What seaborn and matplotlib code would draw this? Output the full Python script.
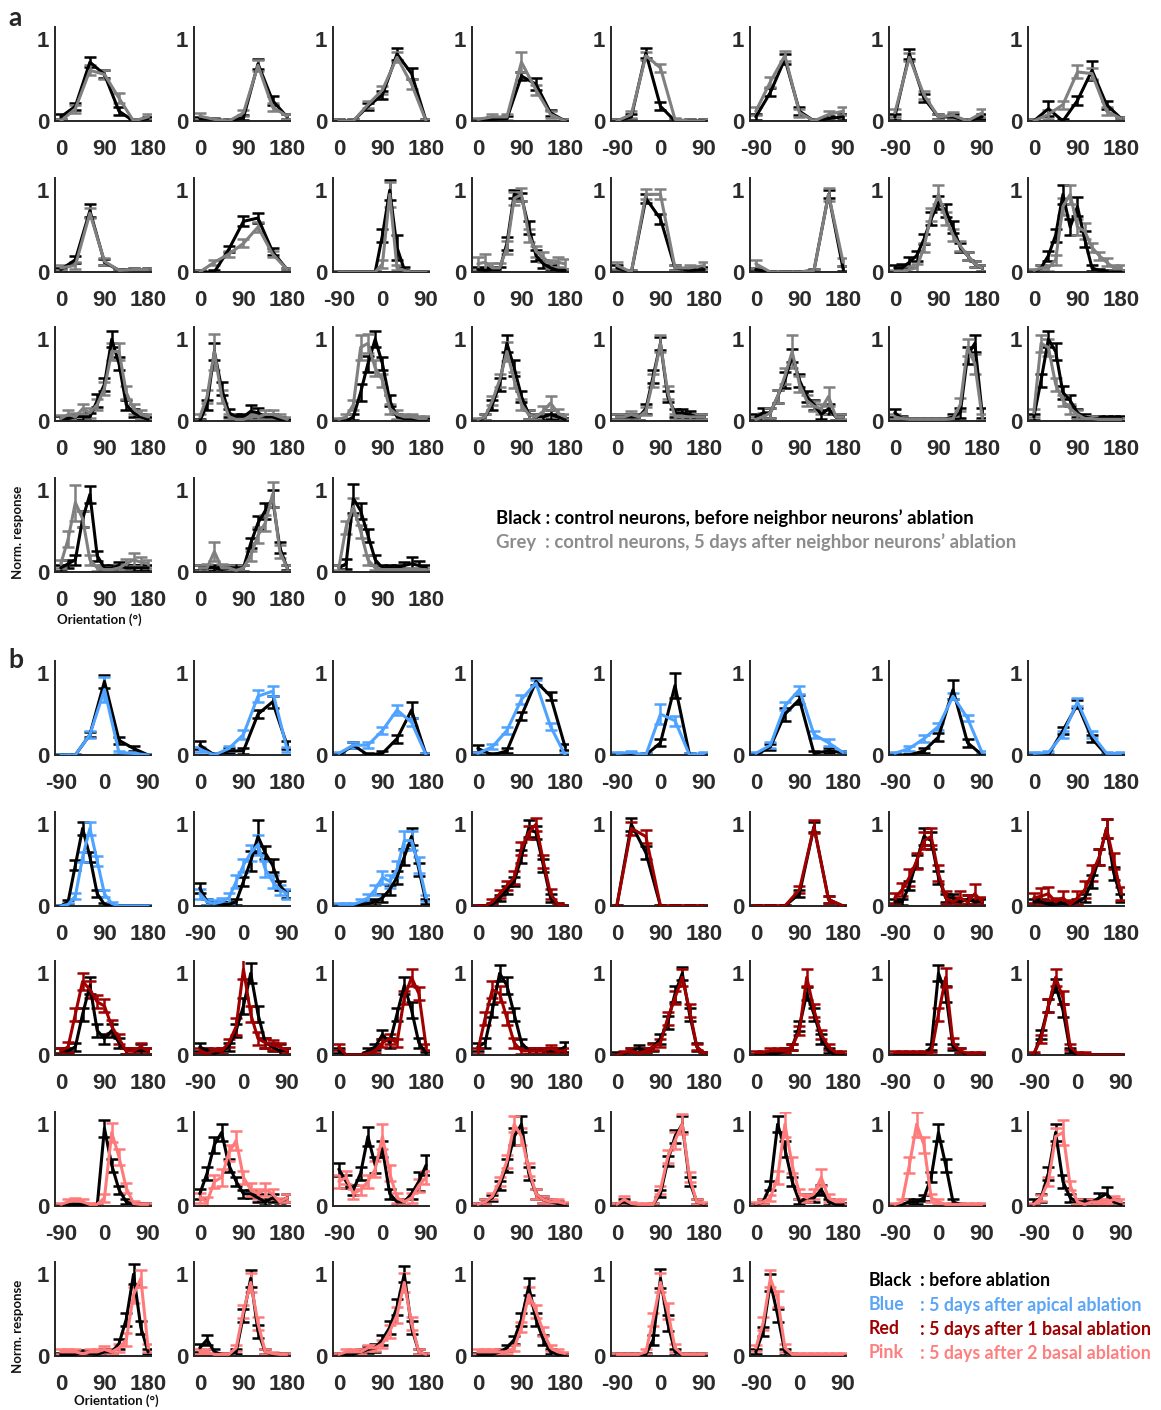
import numpy as np
import pandas as pd
import matplotlib
matplotlib.use("Agg")
import matplotlib.pyplot as plt
import seaborn as sns

sns.set_theme(style="white")
plt.rcParams['font.family'] = ['Liberation Sans', 'DejaVu Sans']

# ---------------- colours ----------------
BLACK = '#000000'
GREY = '#808080'
BLUE = '#4da3ff'
RED = '#a00000'
PINK = '#ff7b7b'

# ---------------- data : section a ----------------
# domain 'p' -> 0..180 deg, 'n' -> -90..90 deg
A1_DOMAIN = ['p', 'p', 'p', 'p', 'n', 'n', 'n', 'p']
A1_BLACK = [
    [0.05, 0.18, 0.72, 0.57, 0.12, 0.0, 0.03],
    [0.03, 0.02, 0.0, 0.04, 0.70, 0.25, 0.05],
    [0.0, 0.0, 0.18, 0.32, 0.82, 0.58, 0.0],
    [0.0, 0.02, 0.03, 0.55, 0.45, 0.1, 0.0],
    [0.0, 0.05, 0.83, 0.18, 0.0, 0.0, 0.0],
    [0.05, 0.35, 0.76, 0.12, 0.0, 0.03, 0.05],
    [0.05, 0.82, 0.28, 0.05, 0.05, 0.0, 0.05],
    [0.0, 0.15, 0.0, 0.25, 0.62, 0.2, 0.03],
]
A1_BLACK_ERR = [
    [0.03, 0.04, 0.06, 0.05, 0.05, 0.02, 0.02],
    [0.02, 0.02, 0.02, 0.03, 0.06, 0.05, 0.03],
    [0.02, 0.02, 0.04, 0.05, 0.07, 0.07, 0.02],
    [0.02, 0.03, 0.03, 0.05, 0.07, 0.04, 0.02],
    [0.02, 0.03, 0.06, 0.05, 0.02, 0.02, 0.02],
    [0.04, 0.05, 0.06, 0.05, 0.02, 0.03, 0.04],
    [0.04, 0.06, 0.05, 0.03, 0.03, 0.02, 0.03],
    [0.03, 0.09, 0.03, 0.05, 0.12, 0.05, 0.02],
]
A1_TEST = [
    [0.0, 0.15, 0.62, 0.57, 0.28, 0.0, 0.05],
    [0.06, 0.02, 0.0, 0.1, 0.68, 0.17, 0.06],
    [0.0, 0.0, 0.2, 0.38, 0.78, 0.45, 0.0],
    [0.02, 0.05, 0.05, 0.72, 0.38, 0.08, 0.0],
    [0.0, 0.08, 0.8, 0.65, 0.02, 0.0, 0.0],
    [0.12, 0.48, 0.8, 0.1, 0.0, 0.08, 0.12],
    [0.1, 0.78, 0.32, 0.05, 0.07, 0.0, 0.1],
    [0.0, 0.08, 0.2, 0.6, 0.58, 0.12, 0.03],
]
A1_TEST_ERR = [
    [0.03, 0.05, 0.06, 0.06, 0.06, 0.02, 0.03],
    [0.04, 0.02, 0.02, 0.04, 0.07, 0.05, 0.03],
    [0.02, 0.02, 0.04, 0.05, 0.06, 0.06, 0.02],
    [0.02, 0.04, 0.04, 0.12, 0.06, 0.04, 0.02],
    [0.02, 0.04, 0.05, 0.05, 0.02, 0.02, 0.02],
    [0.05, 0.06, 0.06, 0.05, 0.02, 0.04, 0.05],
    [0.05, 0.05, 0.05, 0.03, 0.04, 0.02, 0.05],
    [0.03, 0.05, 0.05, 0.08, 0.07, 0.05, 0.02],
]

A2_DOMAIN = ['p', 'p', 'n', 'p', 'p', 'p', 'p', 'p']
A2_BLACK = [
    [0.03, 0.15, 0.75, 0.12, 0.02, 0.03, 0.03],
    [0.0, 0.0, 0.28, 0.62, 0.66, 0.25, 0.03],
    [0, 0, 0, 0, 0, 0, 0.45, 1.0, 0.3, 0.03, 0, 0, 0],
    [0.03, 0.02, 0.03, 0.03, 0.35, 0.95, 0.92, 0.55, 0.2, 0.1, 0.05, 0.02, 0.02],
    [0.05, 0.0, 0.9, 0.65, 0.05, 0.02, 0.03],
    [0.03, 0.0, 0.0, 0.0, 0.02, 0.95, 0.04],
    [0.05, 0.05, 0.12, 0.2, 0.4, 0.65, 0.85, 0.75, 0.55, 0.3, 0.2, 0.1, 0.05],
    [0.0, 0.05, 0.2, 0.45, 0.95, 0.55, 0.8, 0.4, 0.05, 0.02, 0.0, 0.0, 0.0],
]
A2_BLACK_ERR = [
    [0.02, 0.04, 0.08, 0.04, 0.02, 0.02, 0.02],
    [0.02, 0.02, 0.04, 0.06, 0.06, 0.04, 0.02],
    [0.01, 0.01, 0.01, 0.01, 0.01, 0.01, 0.08, 0.12, 0.15, 0.03, 0.01, 0.01, 0.01],
    [0.03, 0.03, 0.03, 0.03, 0.08, 0.05, 0.05, 0.08, 0.07, 0.05, 0.04, 0.02, 0.02],
    [0.03, 0.02, 0.06, 0.06, 0.03, 0.02, 0.03],
    [0.02, 0.01, 0.01, 0.01, 0.02, 0.05, 0.03],
    [0.04, 0.05, 0.06, 0.06, 0.06, 0.08, 0.08, 0.08, 0.07, 0.06, 0.05, 0.04, 0.04],
    [0.02, 0.04, 0.06, 0.08, 0.12, 0.1, 0.12, 0.1, 0.04, 0.02, 0.02, 0.02, 0.02],
]
A2_TEST = [
    [0.05, 0.08, 0.72, 0.13, 0.02, 0.03, 0.03],
    [0.0, 0.12, 0.22, 0.35, 0.55, 0.22, 0.03],
    [0, 0, 0, 0, 0, 0, 0.1, 0.95, 0.05, 0.02, 0, 0, 0],
    [0.1, 0.12, 0.05, 0.05, 0.3, 0.9, 0.95, 0.45, 0.25, 0.18, 0.1, 0.12, 0.1],
    [0.08, 0.0, 0.95, 0.95, 0.05, 0.05, 0.08],
    [0.1, 0.0, 0.0, 0.0, 0.02, 0.95, 0.12],
    [0.0, 0.0, 0.03, 0.05, 0.3, 0.7, 0.95, 0.65, 0.45, 0.32, 0.2, 0.1, 0.05],
    [0.02, 0.05, 0.05, 0.15, 0.8, 0.95, 0.55, 0.5, 0.3, 0.2, 0.12, 0.05, 0.05],
]
A2_TEST_ERR = [
    [0.03, 0.04, 0.06, 0.04, 0.02, 0.02, 0.02],
    [0.02, 0.03, 0.04, 0.05, 0.06, 0.04, 0.02],
    [0.01, 0.01, 0.01, 0.01, 0.01, 0.01, 0.05, 0.15, 0.03, 0.01, 0.01, 0.01, 0.01],
    [0.08, 0.1, 0.06, 0.06, 0.08, 0.08, 0.08, 0.08, 0.07, 0.06, 0.05, 0.06, 0.06],
    [0.04, 0.02, 0.06, 0.06, 0.03, 0.03, 0.04],
    [0.05, 0.01, 0.01, 0.01, 0.02, 0.08, 0.05],
    [0.02, 0.02, 0.04, 0.05, 0.06, 0.08, 0.12, 0.08, 0.07, 0.06, 0.05, 0.04, 0.04],
    [0.02, 0.03, 0.04, 0.06, 0.1, 0.12, 0.1, 0.1, 0.06, 0.05, 0.05, 0.03, 0.03],
]

A3_DOMAIN = ['p'] * 8
A3_BLACK = [
    [0.03, 0.03, 0.05, 0.05, 0.05, 0.25, 0.45, 1.0, 0.7, 0.2, 0.1, 0.05, 0.02],
    [0.0, 0.2, 0.85, 0.4, 0.1, 0.05, 0.05, 0.12, 0.1, 0.05, 0.05, 0.02, 0.0],
    [0.0, 0.0, 0.05, 0.35, 0.7, 1.0, 0.7, 0.25, 0.05, 0.03, 0.03, 0.02, 0.02],
    [0.0, 0.05, 0.2, 0.45, 0.95, 0.65, 0.3, 0.08, 0.05, 0.05, 0.08, 0.05, 0.02],
    [0.05, 0.05, 0.05, 0.05, 0.15, 0.55, 0.95, 0.3, 0.1, 0.1, 0.08, 0.05, 0.05],
    [0.05, 0.1, 0.1, 0.3, 0.5, 0.8, 0.5, 0.3, 0.2, 0.08, 0.15, 0.05, 0.05],
    [0.1, 0.03, 0.02, 0.02, 0.02, 0.02, 0.02, 0.02, 0.05, 0.1, 0.8, 0.95, 0.1],
    [0.05, 0.5, 1.0, 0.85, 0.35, 0.25, 0.1, 0.05, 0.03, 0.03, 0.03, 0.03, 0.03],
]
A3_BLACK_ERR = [
    [0.03, 0.03, 0.04, 0.04, 0.05, 0.08, 0.08, 0.1, 0.08, 0.06, 0.05, 0.04, 0.03],
    [0.02, 0.06, 0.1, 0.08, 0.05, 0.04, 0.04, 0.08, 0.06, 0.04, 0.04, 0.03, 0.02],
    [0.02, 0.02, 0.04, 0.1, 0.1, 0.1, 0.08, 0.07, 0.04, 0.03, 0.03, 0.02, 0.02],
    [0.02, 0.04, 0.06, 0.08, 0.1, 0.1, 0.07, 0.05, 0.04, 0.04, 0.05, 0.04, 0.02],
    [0.03, 0.03, 0.03, 0.04, 0.06, 0.08, 0.08, 0.07, 0.05, 0.05, 0.04, 0.03, 0.03],
    [0.04, 0.06, 0.06, 0.08, 0.1, 0.08, 0.08, 0.07, 0.06, 0.05, 0.06, 0.04, 0.04],
    [0.05, 0.03, 0.02, 0.02, 0.02, 0.02, 0.02, 0.02, 0.04, 0.06, 0.1, 0.1, 0.06],
    [0.04, 0.08, 0.1, 0.1, 0.08, 0.07, 0.05, 0.04, 0.03, 0.03, 0.03, 0.03, 0.03],
]
A3_TEST = [
    [0.03, 0.08, 0.05, 0.15, 0.1, 0.2, 0.4, 0.85, 0.85, 0.35, 0.15, 0.08, 0.05],
    [0.05, 0.3, 0.85, 0.3, 0.05, 0.02, 0.02, 0.05, 0.05, 0.08, 0.08, 0.05, 0.02],
    [0.02, 0.05, 0.2, 0.9, 0.95, 0.65, 0.5, 0.15, 0.08, 0.05, 0.05, 0.03, 0.03],
    [0.02, 0.05, 0.25, 0.5, 0.85, 0.5, 0.2, 0.08, 0.05, 0.12, 0.22, 0.1, 0.05],
    [0.05, 0.05, 0.08, 0.05, 0.12, 0.5, 0.95, 0.35, 0.05, 0.05, 0.05, 0.05, 0.05],
    [0.02, 0.05, 0.1, 0.3, 0.55, 0.85, 0.45, 0.25, 0.18, 0.15, 0.3, 0.05, 0.05],
    [0.05, 0.03, 0.02, 0.02, 0.02, 0.02, 0.02, 0.02, 0.03, 0.2, 0.9, 0.7, 0.05],
    [0.1, 0.95, 0.9, 0.45, 0.25, 0.15, 0.08, 0.03, 0.03, 0.02, 0.02, 0.02, 0.02],
]
A3_TEST_ERR = [
    [0.04, 0.05, 0.05, 0.06, 0.06, 0.07, 0.08, 0.1, 0.1, 0.08, 0.06, 0.05, 0.04],
    [0.04, 0.08, 0.22, 0.08, 0.04, 0.03, 0.03, 0.04, 0.04, 0.05, 0.05, 0.04, 0.03],
    [0.02, 0.04, 0.06, 0.15, 0.12, 0.1, 0.08, 0.06, 0.05, 0.04, 0.04, 0.03, 0.03],
    [0.02, 0.04, 0.06, 0.08, 0.12, 0.1, 0.07, 0.05, 0.04, 0.06, 0.08, 0.05, 0.03],
    [0.03, 0.03, 0.04, 0.04, 0.05, 0.08, 0.1, 0.08, 0.04, 0.04, 0.04, 0.04, 0.03],
    [0.03, 0.05, 0.06, 0.08, 0.1, 0.2, 0.1, 0.07, 0.06, 0.06, 0.12, 0.04, 0.03],
    [0.03, 0.02, 0.02, 0.02, 0.02, 0.02, 0.02, 0.02, 0.03, 0.08, 0.1, 0.12, 0.04],
    [0.05, 0.1, 0.1, 0.08, 0.07, 0.06, 0.05, 0.03, 0.03, 0.02, 0.02, 0.02, 0.02],
]

A4_DOMAIN = ['p', 'p', 'p']
A4_BLACK = [
    [0.05, 0.1, 0.15, 0.65, 0.95, 0.2, 0.05, 0.05, 0.08, 0.05, 0.05, 0.05, 0.05],
    [0.05, 0.05, 0.05, 0.03, 0.05, 0.05, 0.05, 0.35, 0.6, 0.75, 0.9, 0.3, 0.05],
    [0.05, 0.1, 0.9, 0.75, 0.45, 0.15, 0.05, 0.05, 0.05, 0.08, 0.1, 0.08, 0.05],
]
A4_BLACK_ERR = [
    [0.04, 0.05, 0.06, 0.1, 0.1, 0.06, 0.03, 0.03, 0.04, 0.04, 0.04, 0.04, 0.04],
    [0.03, 0.04, 0.04, 0.03, 0.03, 0.03, 0.04, 0.06, 0.08, 0.1, 0.1, 0.07, 0.03],
    [0.04, 0.06, 0.18, 0.1, 0.08, 0.06, 0.04, 0.04, 0.04, 0.04, 0.08, 0.05, 0.04],
]
A4_TEST = [
    [0.1, 0.4, 0.85, 0.65, 0.15, 0.05, 0.03, 0.03, 0.05, 0.1, 0.15, 0.12, 0.1],
    [0.05, 0.05, 0.25, 0.05, 0.05, 0.02, 0.05, 0.2, 0.45, 0.6, 0.95, 0.25, 0.05],
    [0.05, 0.55, 0.8, 0.5, 0.15, 0.05, 0.03, 0.03, 0.03, 0.03, 0.03, 0.03, 0.03],
]
A4_TEST_ERR = [
    [0.05, 0.1, 0.22, 0.1, 0.06, 0.04, 0.03, 0.03, 0.04, 0.06, 0.08, 0.06, 0.05],
    [0.04, 0.05, 0.12, 0.05, 0.04, 0.03, 0.04, 0.06, 0.1, 0.1, 0.15, 0.08, 0.04],
    [0.03, 0.08, 0.1, 0.08, 0.06, 0.03, 0.02, 0.02, 0.02, 0.02, 0.02, 0.02, 0.02],
]

# ---------------- data : section b ----------------
B1_DOMAIN = ['n', 'p', 'p', 'p', 'n', 'p', 'n', 'p']
B1_COLOR = [BLUE] * 8
B1_BLACK = [
    [0.0, 0.0, 0.25, 0.9, 0.18, 0.08, 0.0],
    [0.12, 0.0, 0.05, 0.05, 0.5, 0.65, 0.12],
    [0.0, 0.12, 0.0, 0.02, 0.2, 0.55, 0.0],
    [0.08, 0.0, 0.05, 0.48, 0.9, 0.72, 0.1],
    [0.0, 0.0, 0.0, 0.15, 0.85, 0.0, 0.0],
    [0.0, 0.1, 0.5, 0.68, 0.02, 0.05, 0.03],
    [0.0, 0.0, 0.05, 0.22, 0.8, 0.15, 0.0],
    [0.0, 0.0, 0.3, 0.62, 0.2, 0.0, 0.0],
]
B1_BLACK_ERR = [
    [0.01, 0.01, 0.03, 0.08, 0.04, 0.03, 0.01],
    [0.05, 0.02, 0.03, 0.04, 0.05, 0.07, 0.05],
    [0.02, 0.04, 0.02, 0.03, 0.05, 0.1, 0.02],
    [0.04, 0.02, 0.03, 0.05, 0.04, 0.05, 0.04],
    [0.02, 0.02, 0.02, 0.04, 0.15, 0.02, 0.02],
    [0.02, 0.04, 0.08, 0.06, 0.03, 0.03, 0.02],
    [0.01, 0.01, 0.03, 0.05, 0.12, 0.05, 0.01],
    [0.01, 0.01, 0.04, 0.05, 0.04, 0.01, 0.01],
]
B1_TEST = [
    [0.0, 0.0, 0.25, 0.8, 0.03, 0.02, 0.0],
    [0.07, 0.0, 0.08, 0.25, 0.72, 0.78, 0.07],
    [0.02, 0.12, 0.12, 0.3, 0.55, 0.4, 0.0],
    [0.02, 0.1, 0.3, 0.68, 0.88, 0.35, 0.0],
    [0.02, 0.03, 0.0, 0.5, 0.42, 0.0, 0.02],
    [0.02, 0.12, 0.6, 0.8, 0.25, 0.15, 0.03],
    [0.02, 0.08, 0.2, 0.35, 0.72, 0.45, 0.03],
    [0.02, 0.03, 0.25, 0.65, 0.25, 0.02, 0.02],
]
B1_TEST_ERR = [
    [0.01, 0.01, 0.04, 0.15, 0.02, 0.02, 0.01],
    [0.03, 0.02, 0.03, 0.05, 0.07, 0.06, 0.03],
    [0.02, 0.04, 0.04, 0.04, 0.06, 0.05, 0.02],
    [0.02, 0.03, 0.04, 0.05, 0.04, 0.04, 0.02],
    [0.02, 0.02, 0.02, 0.12, 0.06, 0.02, 0.02],
    [0.02, 0.04, 0.05, 0.05, 0.04, 0.04, 0.02],
    [0.02, 0.03, 0.04, 0.04, 0.04, 0.04, 0.02],
    [0.02, 0.02, 0.04, 0.05, 0.04, 0.02, 0.02],
]

B2_DOMAIN = ['p', 'n', 'p', 'p', 'p', 'p', 'n', 'p']
B2_COLOR = [BLUE, BLUE, BLUE, RED, RED, RED, RED, RED]
B2_BLACK = [
    [0, 0.05, 0.5, 0.95, 0.6, 0.15, 0.02, 0, 0, 0, 0, 0, 0],
    [0.22, 0.05, 0.03, 0.02, 0.02, 0.05, 0.3, 0.55, 0.85, 0.65, 0.5, 0.25, 0.15],
    [0, 0, 0, 0.02, 0.03, 0.05, 0.1, 0.2, 0.35, 0.6, 0.85, 0.45, 0.05],
    [0, 0, 0.02, 0.1, 0.2, 0.3, 0.6, 0.95, 0.9, 0.5, 0.1, 0.02, 0],
    [0.0, 1.0, 0.65, 0.0, 0.0, 0.0, 0.0],
    [0, 0, 0, 0.15, 0.97, 0.08, 0.0],
    [0.05, 0.05, 0.25, 0.55, 0.85, 0.8, 0.35, 0.1, 0.1, 0.05, 0.08, 0.05, 0.05],
    [0.05, 0.05, 0.02, 0.02, 0.03, 0.02, 0.05, 0.1, 0.3, 0.6, 0.95, 0.4, 0.1],
]
B2_BLACK_ERR = [
    [0.01, 0.02, 0.06, 0.08, 0.06, 0.04, 0.02, 0.01, 0.01, 0.01, 0.01, 0.01, 0.01],
    [0.06, 0.04, 0.03, 0.03, 0.03, 0.04, 0.06, 0.12, 0.2, 0.08, 0.08, 0.06, 0.05],
    [0.01, 0.01, 0.02, 0.02, 0.03, 0.04, 0.05, 0.06, 0.08, 0.1, 0.1, 0.08, 0.03],
    [0.01, 0.01, 0.02, 0.04, 0.05, 0.06, 0.08, 0.1, 0.08, 0.08, 0.05, 0.02, 0.01],
    [0.01, 0.08, 0.08, 0.01, 0.01, 0.01, 0.01],
    [0.01, 0.01, 0.01, 0.04, 0.06, 0.04, 0.01],
    [0.04, 0.04, 0.06, 0.08, 0.1, 0.1, 0.08, 0.05, 0.05, 0.04, 0.05, 0.04, 0.04],
    [0.04, 0.04, 0.03, 0.03, 0.03, 0.03, 0.04, 0.05, 0.08, 0.1, 0.12, 0.08, 0.05],
]
B2_TEST = [
    [0, 0.02, 0.12, 0.6, 0.95, 0.55, 0.15, 0.03, 0, 0, 0, 0, 0],
    [0.15, 0.05, 0.03, 0.05, 0.1, 0.3, 0.5, 0.65, 0.75, 0.45, 0.3, 0.2, 0.15],
    [0.02, 0.02, 0.02, 0.05, 0.1, 0.2, 0.35, 0.3, 0.45, 0.8, 0.8, 0.5, 0.1],
    [0, 0, 0.05, 0.15, 0.25, 0.35, 0.7, 0.9, 1.0, 0.55, 0.15, 0.02, 0],
    [0.0, 0.95, 0.85, 0.0, 0.0, 0.0, 0.0],
    [0, 0, 0, 0.2, 0.97, 0.08, 0.0],
    [0.1, 0.2, 0.35, 0.55, 0.8, 0.85, 0.4, 0.1, 0.05, 0.1, 0.05, 0.15, 0.05],
    [0.1, 0.12, 0.15, 0.05, 0.1, 0.02, 0.1, 0.2, 0.4, 0.6, 0.95, 0.55, 0.15],
]
B2_TEST_ERR = [
    [0.01, 0.02, 0.04, 0.06, 0.08, 0.06, 0.04, 0.02, 0.01, 0.01, 0.01, 0.01, 0.01],
    [0.06, 0.04, 0.04, 0.05, 0.06, 0.08, 0.08, 0.1, 0.12, 0.1, 0.08, 0.06, 0.06],
    [0.02, 0.02, 0.02, 0.04, 0.05, 0.06, 0.08, 0.08, 0.1, 0.12, 0.12, 0.1, 0.04],
    [0.01, 0.01, 0.03, 0.05, 0.06, 0.08, 0.08, 0.08, 0.08, 0.08, 0.06, 0.02, 0.01],
    [0.01, 0.08, 0.08, 0.01, 0.01, 0.01, 0.01],
    [0.01, 0.01, 0.01, 0.04, 0.08, 0.04, 0.01],
    [0.06, 0.08, 0.1, 0.1, 0.1, 0.1, 0.1, 0.08, 0.06, 0.08, 0.08, 0.12, 0.06],
    [0.06, 0.1, 0.08, 0.05, 0.08, 0.05, 0.08, 0.1, 0.1, 0.1, 0.12, 0.1, 0.08],
]

B3_DOMAIN = ['p', 'n', 'p', 'p', 'p', 'p', 'n', 'n']
B3_COLOR = [RED] * 8
B3_BLACK = [
    [0.05, 0.05, 0.1, 0.5, 0.85, 0.3, 0.2, 0.3, 0.15, 0.05, 0.05, 0.05, 0.05],
    [0.1, 0.05, 0.02, 0.05, 0.1, 0.3, 0.6, 1.0, 0.5, 0.15, 0.1, 0.05, 0.05],
    [0.05, 0, 0, 0, 0.05, 0.1, 0.25, 0.15, 0.5, 0.85, 0.55, 0.15, 0.02],
    [0.1, 0.15, 0.55, 1.0, 0.85, 0.5, 0.15, 0.05, 0.05, 0.05, 0.05, 0.05, 0.1],
    [0.02, 0.02, 0.05, 0.08, 0.05, 0.1, 0.2, 0.4, 0.75, 1.0, 0.5, 0.1, 0.02],
    [0, 0, 0.02, 0.02, 0.05, 0.1, 0.35, 0.75, 0.5, 0.2, 0.05, 0, 0],
    [0, 0, 0, 0, 0, 0.1, 1.0, 0.75, 0.1, 0.05, 0, 0, 0],
    [0, 0.25, 0.6, 0.85, 0.55, 0.05, 0, 0, 0, 0, 0, 0, 0],
]
B3_BLACK_ERR = [
    [0.03, 0.03, 0.05, 0.08, 0.1, 0.08, 0.06, 0.08, 0.06, 0.04, 0.04, 0.08, 0.04],
    [0.05, 0.04, 0.03, 0.04, 0.05, 0.08, 0.1, 0.12, 0.1, 0.06, 0.05, 0.08, 0.04],
    [0.03, 0.01, 0.01, 0.01, 0.03, 0.04, 0.06, 0.06, 0.08, 0.1, 0.1, 0.06, 0.02],
    [0.05, 0.06, 0.08, 0.1, 0.1, 0.08, 0.05, 0.04, 0.04, 0.04, 0.04, 0.04, 0.06],
    [0.02, 0.02, 0.03, 0.04, 0.04, 0.05, 0.06, 0.08, 0.1, 0.08, 0.08, 0.05, 0.02],
    [0.01, 0.01, 0.02, 0.02, 0.03, 0.04, 0.06, 0.08, 0.08, 0.06, 0.03, 0.01, 0.01],
    [0.01, 0.01, 0.01, 0.01, 0.01, 0.04, 0.1, 0.1, 0.04, 0.03, 0.01, 0.01, 0.01],
    [0.01, 0.05, 0.08, 0.08, 0.08, 0.03, 0.01, 0.01, 0.01, 0.01, 0.01, 0.01, 0.01],
]
B3_TEST = [
    [0.05, 0.1, 0.5, 0.9, 0.8, 0.65, 0.6, 0.35, 0.2, 0.05, 0.05, 0.1, 0.05],
    [0.05, 0.02, 0.05, 0.05, 0.15, 0.35, 1.05, 0.5, 0.2, 0.15, 0.12, 0.1, 0.05],
    [0.1, 0, 0, 0, 0.02, 0.05, 0.15, 0.2, 0.15, 0.7, 0.95, 0.75, 0.1],
    [0.05, 0.45, 0.8, 0.75, 0.45, 0.15, 0.05, 0.05, 0.05, 0.05, 0.08, 0.05, 0.05],
    [0, 0.03, 0.05, 0.02, 0.05, 0.1, 0.15, 0.45, 0.7, 0.95, 0.55, 0.1, 0.02],
    [0.03, 0.03, 0.05, 0.05, 0.05, 0.1, 0.3, 0.95, 0.55, 0.25, 0.1, 0.03, 0.03],
    [0.03, 0.03, 0.03, 0.03, 0.03, 0.02, 0.5, 0.95, 0.15, 0.05, 0.02, 0.02, 0.02],
    [0.02, 0.2, 0.6, 0.95, 0.7, 0.1, 0.02, 0.02, 0, 0, 0, 0, 0],
]
B3_TEST_ERR = [
    [0.04, 0.06, 0.08, 0.1, 0.1, 0.08, 0.08, 0.08, 0.06, 0.04, 0.04, 0.05, 0.04],
    [0.03, 0.02, 0.03, 0.04, 0.05, 0.1, 0.12, 0.1, 0.08, 0.06, 0.06, 0.05, 0.04],
    [0.04, 0.01, 0.01, 0.01, 0.02, 0.03, 0.05, 0.06, 0.05, 0.08, 0.1, 0.08, 0.04],
    [0.04, 0.08, 0.1, 0.1, 0.08, 0.06, 0.04, 0.04, 0.04, 0.04, 0.04, 0.04, 0.04],
    [0.01, 0.02, 0.03, 0.02, 0.03, 0.04, 0.05, 0.08, 0.08, 0.1, 0.08, 0.04, 0.02],
    [0.02, 0.02, 0.03, 0.03, 0.03, 0.04, 0.06, 0.1, 0.08, 0.06, 0.04, 0.02, 0.02],
    [0.02, 0.02, 0.02, 0.02, 0.02, 0.02, 0.08, 0.12, 0.06, 0.03, 0.02, 0.02, 0.02],
    [0.02, 0.05, 0.08, 0.1, 0.08, 0.04, 0.02, 0.02, 0.01, 0.01, 0.01, 0.01, 0.01],
]

B4_DOMAIN = ['n', 'p', 'n', 'p', 'p', 'p', 'n', 'n']
B4_COLOR = [PINK] * 8
B4_BLACK = [
    [0.0, 0.02, 0.02, 0.02, 0.0, 0.0, 0.95, 0.5, 0.2, 0.05, 0.02, 0.02, 0.02],
    [0.15, 0.4, 0.75, 0.9, 0.5, 0.3, 0.15, 0.15, 0.1, 0.05, 0.1, 0.05, 0.1],
    [0.45, 0.3, 0.2, 0.4, 0.85, 0.5, 0.7, 0.15, 0.05, 0.05, 0.15, 0.3, 0.5],
    [0.02, 0.05, 0.1, 0.25, 0.5, 0.85, 1.0, 0.4, 0.15, 0.08, 0.05, 0.03, 0.02],
    [0.02, 0.05, 0.02, 0, 0, 0.02, 0.15, 0.55, 0.85, 1.0, 0.3, 0.05, 0.02],
    [0.02, 0.05, 0.25, 1.0, 0.7, 0.3, 0.05, 0.1, 0.1, 0.2, 0.05, 0.02, 0.02],
    [0, 0.02, 0.05, 0.05, 0.1, 0.35, 0.9, 0.5, 0.05, 0.02, 0, 0, 0],
    [0.05, 0.1, 0.4, 0.9, 0.3, 0.1, 0.05, 0.05, 0.05, 0.1, 0.15, 0.05, 0.02],
]
B4_BLACK_ERR = [
    [0.01, 0.02, 0.02, 0.02, 0.01, 0.01, 0.1, 0.08, 0.05, 0.03, 0.02, 0.02, 0.02],
    [0.06, 0.08, 0.1, 0.1, 0.08, 0.06, 0.05, 0.05, 0.05, 0.04, 0.05, 0.04, 0.05],
    [0.08, 0.08, 0.06, 0.08, 0.12, 0.1, 0.1, 0.06, 0.04, 0.04, 0.06, 0.12, 0.12],
    [0.02, 0.03, 0.04, 0.06, 0.08, 0.1, 0.1, 0.08, 0.06, 0.04, 0.04, 0.03, 0.02],
    [0.02, 0.03, 0.02, 0.01, 0.01, 0.02, 0.04, 0.06, 0.08, 0.1, 0.06, 0.03, 0.02],
    [0.02, 0.03, 0.06, 0.1, 0.1, 0.06, 0.03, 0.05, 0.05, 0.06, 0.04, 0.02, 0.02],
    [0.01, 0.02, 0.03, 0.03, 0.04, 0.06, 0.1, 0.08, 0.04, 0.02, 0.01, 0.01, 0.01],
    [0.03, 0.05, 0.08, 0.1, 0.08, 0.05, 0.04, 0.04, 0.04, 0.06, 0.08, 0.04, 0.02],
]
B4_TEST = [
    [0.02, 0.05, 0.07, 0.05, 0.02, 0.02, 0.1, 0.9, 0.6, 0.22, 0.03, 0.02, 0.02],
    [0.1, 0.05, 0.3, 0.35, 0.65, 0.8, 0.35, 0.2, 0.15, 0.2, 0.15, 0.05, 0.1],
    [0.3, 0.35, 0.15, 0.2, 0.3, 0.45, 0.85, 0.4, 0.1, 0.05, 0.1, 0.25, 0.35],
    [0.02, 0.05, 0.12, 0.3, 0.55, 1.0, 0.85, 0.45, 0.15, 0.08, 0.05, 0.05, 0.03],
    [0.02, 0.08, 0.03, 0.02, 0.02, 0.02, 0.2, 0.6, 0.8, 1.0, 0.35, 0.05, 0.03],
    [0.03, 0.05, 0.1, 0.35, 1.0, 0.5, 0.15, 0.1, 0.15, 0.35, 0.1, 0.05, 0.05],
    [0.02, 0.05, 0.5, 1.0, 0.75, 0.1, 0.05, 0.02, 0.02, 0.02, 0.02, 0.02, 0.02],
    [0.02, 0.1, 0.3, 0.85, 0.9, 0.25, 0.05, 0.02, 0.05, 0.05, 0.05, 0.08, 0.05],
]
B4_TEST_ERR = [
    [0.02, 0.03, 0.03, 0.03, 0.02, 0.02, 0.05, 0.12, 0.1, 0.06, 0.03, 0.02, 0.02],
    [0.06, 0.06, 0.08, 0.1, 0.1, 0.12, 0.08, 0.08, 0.06, 0.08, 0.06, 0.05, 0.05],
    [0.08, 0.08, 0.06, 0.06, 0.08, 0.1, 0.15, 0.1, 0.06, 0.04, 0.06, 0.08, 0.08],
    [0.02, 0.03, 0.04, 0.06, 0.08, 0.1, 0.1, 0.08, 0.06, 0.04, 0.04, 0.03, 0.02],
    [0.02, 0.04, 0.02, 0.02, 0.02, 0.02, 0.05, 0.08, 0.1, 0.12, 0.06, 0.03, 0.02],
    [0.02, 0.03, 0.04, 0.08, 0.15, 0.1, 0.06, 0.05, 0.06, 0.1, 0.05, 0.03, 0.03],
    [0.02, 0.03, 0.1, 0.15, 0.1, 0.05, 0.03, 0.02, 0.02, 0.02, 0.02, 0.02, 0.02],
    [0.02, 0.04, 0.06, 0.1, 0.15, 0.06, 0.03, 0.02, 0.03, 0.03, 0.03, 0.04, 0.03],
]

B5_DOMAIN = ['p', 'p', 'p', 'p', 'n', 'n']
B5_COLOR = [PINK] * 6
B5_BLACK = [
    [0.02, 0.02, 0.02, 0.05, 0.03, 0.02, 0.05, 0.05, 0.15, 0.45, 1.0, 0.35, 0.05],
    [0.1, 0.2, 0.05, 0.02, 0.02, 0.05, 0.5, 0.95, 0.3, 0.05, 0.02, 0.02, 0.02],
    [0.02, 0.02, 0.02, 0.05, 0.08, 0.1, 0.2, 0.35, 0.6, 1.0, 0.35, 0.05, 0.02],
    [0.02, 0.02, 0.02, 0.05, 0.1, 0.2, 0.45, 0.85, 0.45, 0.2, 0.05, 0.02, 0.02],
    [0.02, 0.02, 0.02, 0.02, 0.02, 0.2, 0.95, 0.4, 0.05, 0.02, 0.02, 0.02, 0.02],
    [0.05, 0.3, 0.9, 0.5, 0.05, 0.02, 0, 0, 0, 0, 0, 0, 0],
]
B5_BLACK_ERR = [
    [0.02, 0.02, 0.02, 0.02, 0.02, 0.02, 0.03, 0.03, 0.06, 0.08, 0.12, 0.08, 0.03],
    [0.05, 0.06, 0.04, 0.02, 0.02, 0.03, 0.08, 0.1, 0.08, 0.03, 0.02, 0.02, 0.02],
    [0.02, 0.02, 0.02, 0.03, 0.04, 0.05, 0.06, 0.08, 0.1, 0.1, 0.08, 0.03, 0.02],
    [0.02, 0.02, 0.02, 0.03, 0.04, 0.05, 0.08, 0.1, 0.08, 0.06, 0.03, 0.02, 0.02],
    [0.02, 0.02, 0.02, 0.02, 0.02, 0.06, 0.12, 0.1, 0.04, 0.02, 0.02, 0.02, 0.02],
    [0.03, 0.06, 0.1, 0.08, 0.04, 0.02, 0.01, 0.01, 0.01, 0.01, 0.01, 0.01, 0.01],
]
B5_TEST = [
    [0.05, 0.05, 0.05, 0.03, 0.05, 0.05, 0.08, 0.05, 0.1, 0.2, 0.75, 0.95, 0.1],
    [0.05, 0.05, 0.02, 0.02, 0.02, 0.1, 0.55, 0.9, 0.4, 0.05, 0.03, 0.02, 0.02],
    [0.02, 0.05, 0.05, 0.05, 0.1, 0.1, 0.15, 0.3, 0.5, 0.9, 0.4, 0.05, 0.02],
    [0.05, 0.05, 0.05, 0.05, 0.05, 0.1, 0.35, 0.75, 0.55, 0.3, 0.1, 0.05, 0.03],
    [0.02, 0.02, 0.02, 0.02, 0.05, 0.45, 0.9, 0.55, 0.1, 0.02, 0.02, 0.02, 0.02],
    [0.1, 0.4, 0.95, 0.7, 0.1, 0.02, 0.02, 0.02, 0.02, 0.02, 0.02, 0.02, 0.02],
]
B5_TEST_ERR = [
    [0.03, 0.03, 0.03, 0.02, 0.03, 0.03, 0.04, 0.03, 0.05, 0.08, 0.1, 0.1, 0.05],
    [0.03, 0.03, 0.02, 0.02, 0.02, 0.04, 0.08, 0.12, 0.08, 0.03, 0.02, 0.02, 0.02],
    [0.02, 0.03, 0.03, 0.03, 0.04, 0.04, 0.05, 0.08, 0.1, 0.12, 0.08, 0.03, 0.02],
    [0.03, 0.03, 0.03, 0.03, 0.03, 0.04, 0.06, 0.1, 0.08, 0.06, 0.04, 0.03, 0.02],
    [0.02, 0.02, 0.02, 0.02, 0.03, 0.08, 0.12, 0.1, 0.05, 0.02, 0.02, 0.02, 0.02],
    [0.04, 0.08, 0.1, 0.1, 0.05, 0.02, 0.02, 0.02, 0.02, 0.02, 0.02, 0.02, 0.02],
]

# ---------------- layout (pixels) ----------------
W, H = 1161, 1410
fig = plt.figure(figsize=(W / 100, H / 100), dpi=100)

COL_LEFT = [55 + 139 * i for i in range(8)]
AX_W, AX_H = 96, 94
A_ROW_BASE = [121, 272, 421, 572]
B_ROW_BASE = [755, 906, 1055, 1206, 1356]
TICK_COLOR = '#2b2b2b'


def panel(left_px, base_px, domain, k, kerr, t, terr, color):
    ax = fig.add_axes([left_px / W, 1 - base_px / H, AX_W / W, AX_H / H])
    start = 0 if domain == 'p' else -90
    for vals, errs, c in ((k, kerr, BLACK), (t, terr, color)):
        xs = np.linspace(start, start + 180, len(vals))
        df = pd.DataFrame({'orientation': xs, 'response': vals})
        ax.errorbar(xs, vals, yerr=errs, fmt='none', ecolor=c,
                    elinewidth=1.8, capsize=4, capthick=1.8, zorder=2)
        sns.lineplot(data=df, x='orientation', y='response', ax=ax,
                     color=c, lw=2.2, errorbar=None, zorder=3)
    ax.set_xlim(start - 12, start + 186)
    ax.set_ylim(0, 1.15)
    ax.set_xlabel('')
    ax.set_ylabel('')
    ticks = [start, start + 90, start + 180]
    ax.set_xticks(ticks)
    ax.set_xticklabels([str(v) for v in ticks])
    ax.set_yticks([0, 1])
    ax.set_yticklabels(['0', '1'])
    ax.tick_params(axis='x', length=0, pad=13, labelsize=16, colors=TICK_COLOR)
    ax.tick_params(axis='y', length=0, pad=4, labelsize=16, colors=TICK_COLOR)
    for lbl in ax.get_xticklabels() + ax.get_yticklabels():
        lbl.set_fontweight('bold')
    for s in ('top', 'right'):
        ax.spines[s].set_visible(False)
    for s in ('left', 'bottom'):
        ax.spines[s].set_color('#262626')
        ax.spines[s].set_linewidth(1.4)
    ax.patch.set_alpha(0)
    return ax


A_ROWS = [
    (A1_DOMAIN, A1_BLACK, A1_BLACK_ERR, A1_TEST, A1_TEST_ERR),
    (A2_DOMAIN, A2_BLACK, A2_BLACK_ERR, A2_TEST, A2_TEST_ERR),
    (A3_DOMAIN, A3_BLACK, A3_BLACK_ERR, A3_TEST, A3_TEST_ERR),
    (A4_DOMAIN, A4_BLACK, A4_BLACK_ERR, A4_TEST, A4_TEST_ERR),
]
for r, (dom, bk, bke, ts, tse) in enumerate(A_ROWS):
    for c in range(len(dom)):
        panel(COL_LEFT[c], A_ROW_BASE[r], dom[c], bk[c], bke[c], ts[c], tse[c], GREY)

B_ROWS = [
    (B1_DOMAIN, B1_BLACK, B1_BLACK_ERR, B1_TEST, B1_TEST_ERR, B1_COLOR),
    (B2_DOMAIN, B2_BLACK, B2_BLACK_ERR, B2_TEST, B2_TEST_ERR, B2_COLOR),
    (B3_DOMAIN, B3_BLACK, B3_BLACK_ERR, B3_TEST, B3_TEST_ERR, B3_COLOR),
    (B4_DOMAIN, B4_BLACK, B4_BLACK_ERR, B4_TEST, B4_TEST_ERR, B4_COLOR),
    (B5_DOMAIN, B5_BLACK, B5_BLACK_ERR, B5_TEST, B5_TEST_ERR, B5_COLOR),
]
for r, (dom, bk, bke, ts, tse, cols) in enumerate(B_ROWS):
    for c in range(len(dom)):
        panel(COL_LEFT[c], B_ROW_BASE[r], dom[c], bk[c], bke[c], ts[c], tse[c], cols[c])


# ---------------- texts ----------------
def ftext(x, y, s, **kw):
    fig.text(x / W, 1 - y / H, s, **kw)


LFONT = ['Lato', 'DejaVu Sans']
ftext(15, 18, 'a', fontsize=19, fontweight='bold', family=LFONT, ha='center', va='center')
ftext(16, 660, 'b', fontsize=19, fontweight='bold', family=LFONT, ha='center', va='center')

for yc in (532, 1326):
    ftext(18, yc, 'Norm. response', rotation=90, fontsize=9.5, fontweight='bold',
          family=LFONT, ha='center', va='center', color='#111111')
ftext(99, 620, 'Orientation (°)', fontsize=9.5, fontweight='bold', family=LFONT,
      ha='center', va='center', color='#111111')
ftext(116, 1401, 'Orientation (°)', fontsize=9.5, fontweight='bold', family=LFONT,
      ha='center', va='center', color='#111111')

LEG_A = [
    ('Black : control neurons, before neighbor neurons\u2019 ablation', '#000000', 518),
    ('Grey  : control neurons, 5 days after neighbor neurons\u2019 ablation', '#8c8c8c', 542),
]
for s, col, y in LEG_A:
    ftext(496, y, s, fontsize=13.3, fontweight='bold', family=LFONT, color=col,
          ha='left', va='center')

LEG_B = [
    ('Black', ': before ablation', '#000000', 1281),
    ('Blue', ': 5 days after apical ablation', '#5aa5f5', 1305),
    ('Red', ': 5 days after 1 basal ablation', '#a00000', 1329),
    ('Pink', ': 5 days after 2 basal ablation', '#ff7f7f', 1353),
]
for name, rest, col, y in LEG_B:
    ftext(869, y, name, fontsize=12.8, fontweight='bold', family=LFONT, color=col,
          ha='left', va='center')
    ftext(920, y, rest, fontsize=12.8, fontweight='bold', family=LFONT, color=col,
          ha='left', va='center')

fig.savefig('out.png', dpi=100)
